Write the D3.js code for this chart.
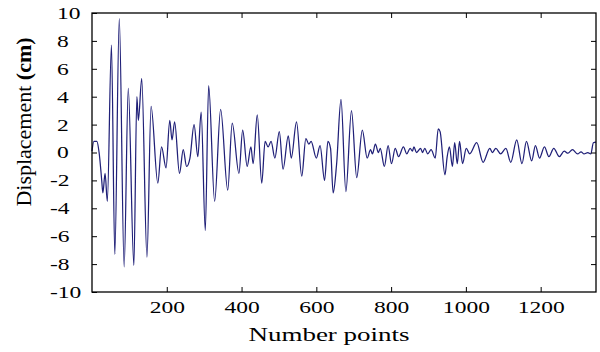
<!DOCTYPE html>
<html>
<head>
<meta charset="utf-8">
<script src="https://cdn.jsdelivr.net/npm/d3@7"></script>
<style>
  body { margin: 0; background: #fff; }
  svg { display: block; font-family: "Liberation Serif", "Times New Roman", serif; }
</style>
</head>
<body>
<div id="chart"></div>
<script>
// sample index and displacement (cm) at turning points
const pointIndex = [0, 5, 13, 19, 26, 29, 35, 41, 52, 61, 73, 86, 97, 112, 120, 124, 133, 147, 158, 176,
  186, 198, 208, 214, 221, 234, 244, 253, 262, 273, 283, 292, 303, 312, 328, 344, 363, 375, 393, 403,
  415, 425, 431, 442, 454, 463, 471, 479, 489, 501, 511, 525, 533, 547, 561, 572, 580, 586, 600, 610,
  622, 631, 638, 645, 654, 666, 679, 694, 708, 723, 736, 745, 750, 758, 766, 771, 782, 792, 801, 811,
  820, 833, 842, 851, 857, 861, 868, 879, 884, 890, 898, 907, 918, 926, 931, 944, 950, 956, 964, 970,
  977, 983, 991, 1001, 1010, 1029, 1046, 1064, 1071, 1080, 1093, 1107, 1120, 1136, 1150, 1162, 1176, 1186, 1197, 1210,
  1222, 1235, 1250, 1263, 1273, 1285, 1299, 1308, 1316, 1326, 1334, 1341, 1348];
const displacement = [0.1, 0.8, 0.8, 0.0, -2.0, -2.9, -1.5, -3.5, 7.7, -7.3, 9.6, -8.2, 4.6, -8.1, 4.0, 2.3, 5.3, -7.5, 3.3, -2.2,
  0.4, -1.1, 2.3, 0.9, 2.2, -1.5, 0.2, -1.0, -0.4, 2.0, -0.3, 2.9, -5.6, 4.8, -3.5, 3.1, -2.7, 2.1, -1.5, 1.6,
  -1.0, 0.4, -0.8, 2.7, -2.2, 0.8, 0.4, 0.8, -0.4, 1.5, -1.2, 1.2, -0.4, 2.2, -1.7, 1.0, 0.6, 0.8, -0.4, 0.5,
  -2.0, 0.8, 0.3, -2.9, -0.9, 3.8, -2.8, 3.0, -1.8, 1.6, -0.4, 0.2, -0.1, 0.6, 0.0, 0.3, -1.0, 0.5, -0.8, 0.3,
  -0.3, 0.4, -0.1, 0.3, 0.1, 0.4, 0.0, 0.3, 0.0, 0.3, -0.1, 0.2, -0.4, 1.7, 1.5, -1.6, -0.3, 0.4, -1.0, 0.7,
  -0.8, 0.8, -0.8, 0.3, -0.1, 0.7, -0.7, 0.3, 0.0, 0.3, -0.1, 0.3, -0.7, 0.9, -0.8, 0.8, -0.6, 0.5, -0.4, 0.4,
  -0.3, 0.3, -0.3, 0.1, -0.05, 0.2, -0.1, 0.05, -0.1, 0.0, -0.1, 0.7, 0.75];

const xTicks = [200, 400, 600, 800, 1000, 1200];
const yTicks = [-10, -8, -6, -4, -2, 0, 2, 4, 6, 8, 10];

const WIDTH = 600;
const HEIGHT = 352;
const PLOT_L = 92, PLOT_R = 596, PLOT_T = 13, PLOT_B = 292;
const STRETCH = 1.47; // the labels in the picture are drawn wide

const svg = d3
  .select('#chart')
  .append('svg')
  .attr('width', WIDTH)
  .attr('height', HEIGHT);

const scaleX = d3.scaleLinear().domain([0, 1348]).range([PLOT_L, PLOT_R]);
const scaleY = d3.scaleLinear().domain([-10, 10]).range([PLOT_B, PLOT_T]);

// signal
const data = pointIndex.map((d, i) => ({ x: d, y: displacement[i] }));
const line = d3
  .line()
  .x((d) => scaleX(d.x))
  .y((d) => scaleY(d.y))
  .curve(d3.curveMonotoneX);

svg
  .append('path')
  .datum(data)
  .attr('d', line)
  .attr('fill', 'none')
  .attr('stroke', '#202078')
  .attr('stroke-width', 1.25);

// inward ticks on all four sides
const tickLen = 5;
const plain = (d) => String(d); // hyphen minus, no thousands comma
const axisBottom = d3.axisBottom(scaleX).tickValues(xTicks).tickFormat(plain).tickSizeInner(-tickLen).tickSizeOuter(0).tickPadding(0);
const axisTop = d3.axisTop(scaleX).tickValues(xTicks).tickSizeInner(-tickLen).tickSizeOuter(0).tickFormat('');
const axisLeft = d3.axisLeft(scaleY).tickValues(yTicks).tickFormat(plain).tickSizeInner(-tickLen).tickSizeOuter(0);
const axisRight = d3.axisRight(scaleY).tickValues(yTicks.slice(1, -1)).tickSizeInner(-tickLen).tickSizeOuter(0).tickFormat('');

const gBottom = svg.append('g').attr('transform', `translate(0,${PLOT_B})`).call(axisBottom);
svg.append('g').attr('transform', `translate(0,${PLOT_T})`).call(axisTop);
const gLeft = svg.append('g').attr('transform', `translate(${PLOT_L},0)`).call(axisLeft);
svg.append('g').attr('transform', `translate(${PLOT_R},0)`).call(axisRight);

svg.selectAll('.domain').remove();
svg.selectAll('.tick line').attr('stroke', '#000').attr('stroke-width', 1);

// tick labels
gBottom
  .selectAll('text')
  .attr('y', 0)
  .attr('dy', 0)
  .attr('transform', `translate(0,21) scale(${STRETCH},1)`)
  .attr('fill', '#000')
  .style('font-size', '16px')
  .style('font-family', '"Liberation Serif", serif');

gLeft
  .selectAll('text')
  .attr('text-anchor', 'start')
  .attr('x', (d) => (d < 0 ? -42 : -35) / STRETCH)
  .attr('dy', '0.34em')
  .attr('transform', `scale(${STRETCH},1)`)
  .attr('fill', '#000')
  .style('font-size', '16px')
  .style('font-family', '"Liberation Serif", serif');

// frame
svg
  .append('rect')
  .attr('x', PLOT_L)
  .attr('y', PLOT_T)
  .attr('width', PLOT_R - PLOT_L)
  .attr('height', PLOT_B - PLOT_T)
  .attr('fill', 'none')
  .attr('stroke', '#000')
  .attr('stroke-width', 1.3);

// axis titles
svg
  .append('text')
  .attr('transform', `translate(329,341) scale(1.5,1)`)
  .attr('text-anchor', 'middle')
  .attr('fill', '#000')
  .style('font-size', '18px')
  .text('Number points');

const yTitle = svg
  .append('text')
  .attr('transform', 'translate(31,122) rotate(-90)')
  .attr('text-anchor', 'middle')
  .attr('fill', '#000')
  .style('font-size', '22px');
yTitle.append('tspan').text('Displacement ');
yTitle.append('tspan').attr('font-weight', 'bold').text('(cm)');
</script>
</body>
</html>
